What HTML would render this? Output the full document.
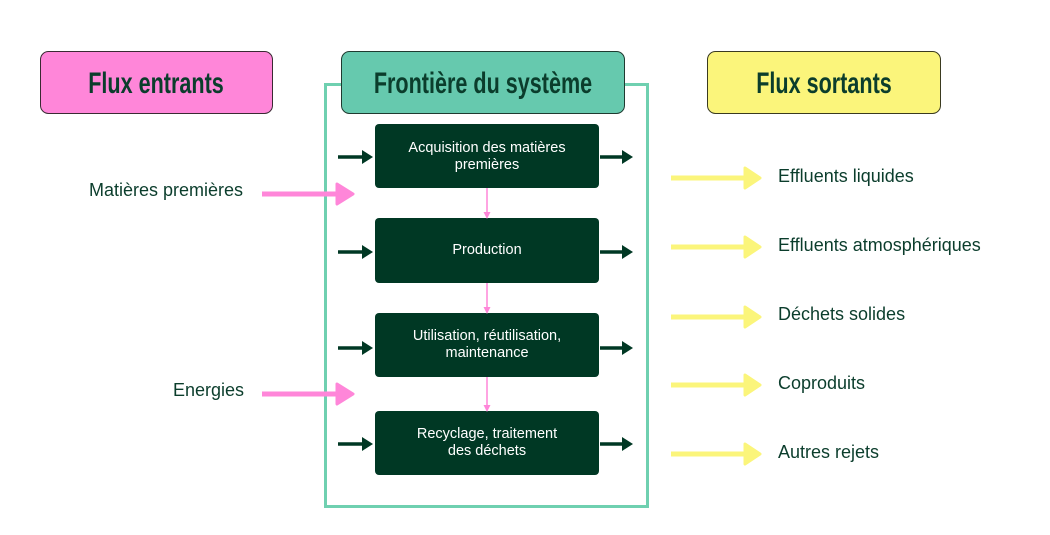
<!DOCTYPE html>
<html><head><meta charset="utf-8"><style>
html,body{margin:0;padding:0;background:#fff;}
svg{display:block}
.t{font-family:"Liberation Sans",sans-serif;fill:#0b3d2c;font-size:18px}
.w{font-family:"Liberation Sans",sans-serif;fill:#fff;font-size:14.5px}
.h{font-family:"Liberation Sans",sans-serif;font-weight:bold;fill:#0b3d2c;font-size:30px}
</style></head><body>
<svg width="1050" height="535" viewBox="0 0 1050 535" xmlns="http://www.w3.org/2000/svg">
<defs>
<marker id="dk" markerWidth="4" markerHeight="4" refX="2" refY="2" orient="auto" markerUnits="strokeWidth"><path d="M0,0 L2.6,2 L0,4 Z" fill="#003824"/></marker>
</defs>
<!-- boundary -->
<rect x="325.5" y="84.5" width="322" height="422" fill="none" stroke="#6fd0b0" stroke-width="3"/>
<!-- header boxes -->
<rect x="40.5" y="51.5" width="232" height="62" rx="8" fill="#ff86d9" stroke="#3a2a33" stroke-width="1"/>
<text class="h" x="156" y="93" text-anchor="middle" transform="translate(156 0) scale(0.72 1) translate(-156 0)">Flux entrants</text>
<rect x="341.5" y="51.5" width="283" height="62" rx="8" fill="#66c9ae" stroke="#1f3a30" stroke-width="1"/>
<text class="h" x="483" y="93" text-anchor="middle" transform="translate(483 0) scale(0.72 1) translate(-483 0)">Frontière du système</text>
<rect x="707.5" y="51.5" width="233" height="62" rx="8" fill="#fbf57b" stroke="#3a3a20" stroke-width="1"/>
<text class="h" x="824" y="93" text-anchor="middle" transform="translate(824 0) scale(0.72 1) translate(-824 0)">Flux sortants</text>
<!-- process boxes -->
<g fill="#003824">
<rect x="375" y="124" width="224" height="64" rx="4"/>
<rect x="375" y="218" width="224" height="65" rx="4"/>
<rect x="375" y="313" width="224" height="64" rx="4"/>
<rect x="375" y="411" width="224" height="64" rx="4"/>
</g>
<text class="w" x="487" y="152" text-anchor="middle">Acquisition des matières</text>
<text class="w" x="487" y="169" text-anchor="middle">premières</text>
<text class="w" x="487" y="254" text-anchor="middle">Production</text>
<text class="w" x="487" y="340" text-anchor="middle">Utilisation, réutilisation,</text>
<text class="w" x="487" y="357" text-anchor="middle">maintenance</text>
<text class="w" x="487" y="438" text-anchor="middle">Recyclage, traitement</text>
<text class="w" x="487" y="455" text-anchor="middle">des déchets</text>
<!-- dark arrows -->
<g stroke="#003824" stroke-width="3.5" fill="none">
<path d="M338 157H364"/><path d="M600 157H624"/>
<path d="M338 252H364"/><path d="M600 252H624"/>
<path d="M338 348H364"/><path d="M600 348H624"/>
<path d="M338 444H364"/><path d="M600 444H624"/>
</g>
<g fill="#003824">
<path d="M362 150L373 157L362 164Z"/><path d="M622 150L633 157L622 164Z"/>
<path d="M362 245L373 252L362 259Z"/><path d="M622 245L633 252L622 259Z"/>
<path d="M362 341L373 348L362 355Z"/><path d="M622 341L633 348L622 355Z"/>
<path d="M362 437L373 444L362 451Z"/><path d="M622 437L633 444L622 451Z"/>
</g>
<!-- pink vertical connectors -->
<g stroke="#ff86d9" stroke-width="1.5">
<path d="M487 188V215"/><path d="M487 283V310"/><path d="M487 377V408"/>
</g>
<g fill="#ff86d9">
<path d="M483.5 212L487 219L490.5 212Z"/><path d="M483.5 307L487 314L490.5 307Z"/><path d="M483.5 405L487 412L490.5 405Z"/>
</g>
<!-- pink input arrows -->
<g stroke="#ff86d9" stroke-width="5"><path d="M262 194H340"/><path d="M262 394H340"/></g>
<g fill="#ff86d9" stroke="#ff86d9" stroke-width="3" stroke-linejoin="round">
<path d="M337 184L353 194L337 204Z"/><path d="M337 384L353 394L337 404Z"/>
</g>
<text class="t" x="243" y="196" text-anchor="end">Matières premières</text>
<text class="t" x="244" y="396" text-anchor="end">Energies</text>
<!-- yellow output arrows -->
<g stroke="#fbf57b" stroke-width="5">
<path d="M671 178H748"/><path d="M671 247H748"/><path d="M671 317H748"/><path d="M671 385H748"/><path d="M671 454H748"/>
</g>
<g fill="#fbf57b" stroke="#fbf57b" stroke-width="3" stroke-linejoin="round">
<path d="M745 168L760 178L745 188Z"/><path d="M745 237L760 247L745 257Z"/><path d="M745 307L760 317L745 327Z"/><path d="M745 375L760 385L745 395Z"/><path d="M745 444L760 454L745 464Z"/>
</g>
<text class="t" x="778" y="182">Effluents liquides</text>
<text class="t" x="778" y="251">Effluents atmosphériques</text>
<text class="t" x="778" y="320">Déchets solides</text>
<text class="t" x="778" y="389">Coproduits</text>
<text class="t" x="778" y="458">Autres rejets</text>
</svg>
</body></html>
